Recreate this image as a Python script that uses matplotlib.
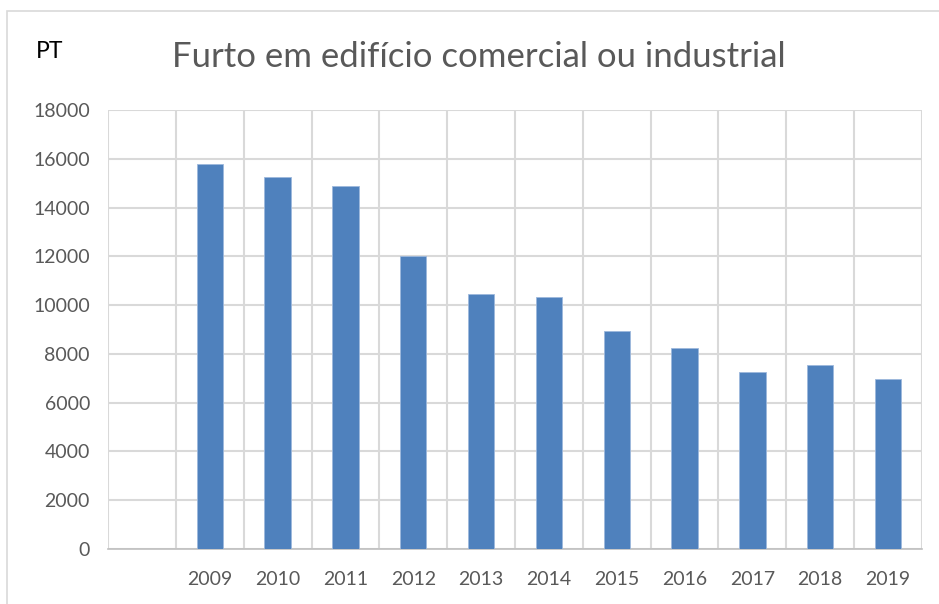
import matplotlib
matplotlib.use("Agg")
from matplotlib import pyplot as plt
from matplotlib.patches import Rectangle

years = ["2009", "2010", "2011", "2012", "2013", "2014", "2015", "2016", "2017", "2018", "2019"]
values = [15780, 15240, 14890, 12010, 10470, 10320, 8920, 8230, 7270, 7530, 6980]
y_ticks = [0, 2000, 4000, 6000, 8000, 10000, 12000, 14000, 16000, 18000]

plt.rcParams["font.family"] = ["Lato", "DejaVu Sans"]
grid_color = "#d9d9d9"
text_color = "#595959"

fig = plt.figure(figsize=(9.39, 6.04), dpi=100)
fig.patches.append(Rectangle((7 / 939, -0.1), 1.0, 1 - 11 / 604 + 0.1, transform=fig.transFigure,
                             fill=False, edgecolor=grid_color, linewidth=1.2))
ax = fig.add_axes([108 / 939, 1 - 549 / 604, 814 / 939, 439 / 604])

# first category slot is empty, years start at position 1
pos = list(range(1, len(years) + 1))
ax.bar(pos, values, width=0.39, color="#4f81bd", edgecolor="#9db8dc", linewidth=0.6, zorder=3)

ax.set_xlim(-0.5, len(years) + 0.5)
ax.set_ylim(0, 18000)
ax.set_yticks(y_ticks)
ax.set_yticklabels([str(v) for v in y_ticks])
ax.set_xticks(pos)
ax.set_xticklabels(years)
ax.set_xticks([p - 0.5 for p in range(0, len(years) + 2)], minor=True)

ax.grid(True, axis="y", which="major", color=grid_color, linewidth=1.5, zorder=0)
ax.grid(True, axis="x", which="minor", color=grid_color, linewidth=1.5, zorder=0)
ax.tick_params(which="both", length=0)
ax.tick_params(axis="y", pad=13, labelsize=14, labelcolor=text_color)
ax.tick_params(axis="x", pad=16, labelsize=14, labelcolor=text_color)

for side in ["top", "right", "left"]:
    ax.spines[side].set_visible(False)
ax.spines["bottom"].set_color("#bfbfbf")
ax.spines["bottom"].set_linewidth(1.2)

fig.text(479 / 939, 1 - 57 / 604, "Furto em edifício comercial ou industrial", ha="center", va="center",
         fontsize=25, color=text_color)
fig.text(50 / 939, 1 - 52 / 604, "PT", ha="center", va="center", fontsize=16.5, color="black")

fig.savefig("out.png", dpi=100)
